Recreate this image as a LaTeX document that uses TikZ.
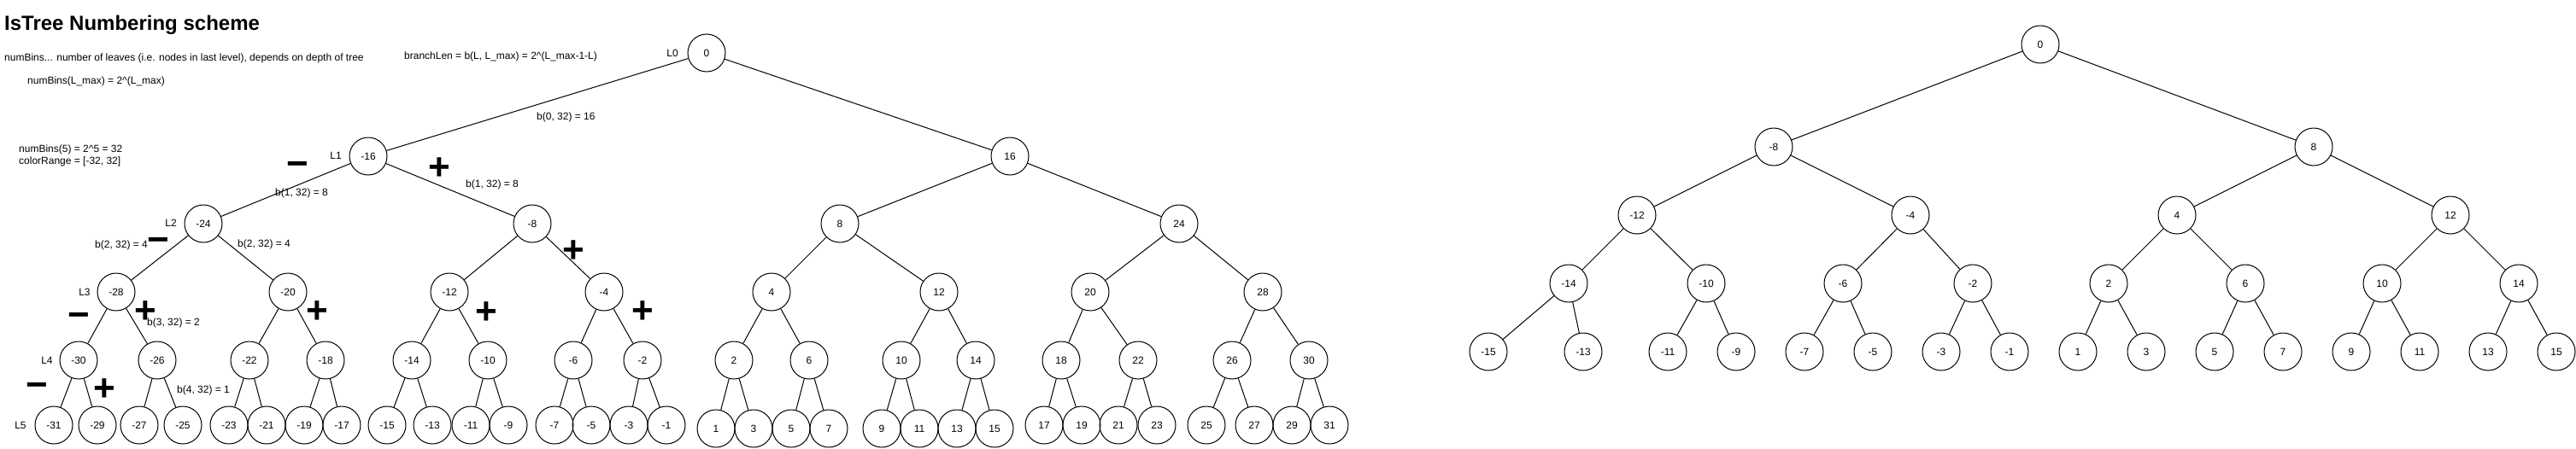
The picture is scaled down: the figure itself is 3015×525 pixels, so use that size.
\documentclass[tikz,border=0pt]{standalone}
\usepackage{fontspec}
\setmainfont{Liberation Sans}
\tikzset{
  num/.style={draw,circle,line width=1pt,minimum size=44pt,inner sep=0pt,font=\fontsize{12}{14}\selectfont},
  txt/.style={anchor=west,inner sep=0pt,font=\fontsize{12}{14}\selectfont},
  lvl/.style={inner sep=0pt,font=\fontsize{12}{14}\selectfont},
  sgn/.style={inner sep=0pt,font=\bfseries\fontsize{44}{44}\selectfont},
  edg/.style={line width=1pt}
}
\begin{document}
\begin{tikzpicture}
        [x=1pt,y=-1pt]
        \useasboundingbox (0,0) rectangle (3015,525);
        % notes
        \node[txt,font=\bfseries\fontsize{24}{28}\selectfont] (title) at (5,29) {IsTree Numbering scheme};
        \node[txt] (leaves) at (5,68) {numBins... number of leaves (i.e. nodes in last level), depends on depth of tree};
        \node[txt] (bins) at (32,95) {numBins(L\_max) = 2\^{}(L\_max)};
        \node[txt] (blen) at (473,66) {branchLen = b(L, L\_max) = 2\^{}(L\_max-1-L)};
        \node[txt,align=left] (range) at (22,182) {numBins(5) = 2\^{}5 = 32\\colorRange = [-32, 32]};

        % left tree
        \node[num] (A0) at (827,62) {0};
        \node[num] (Am16) at (431,183) {-16};
        \node[num] (A16) at (1182,183) {16};
        \node[num] (Am24) at (238,262) {-24};
        \node[num] (Am8) at (623,262) {-8};
        \node[num] (A8) at (983,262) {8};
        \node[num] (A24) at (1380,262) {24};
        \node[num] (Am28) at (136,342) {-28};
        \node[num] (Am20) at (337,342) {-20};
        \node[num] (Am12) at (526,342) {-12};
        \node[num] (Am4) at (707,342) {-4};
        \node[num] (A4) at (903,342) {4};
        \node[num] (A12) at (1099,342) {12};
        \node[num] (A20) at (1276,342) {20};
        \node[num] (A28) at (1478,342) {28};
        \node[num] (Am30) at (92,422) {-30};
        \node[num] (Am26) at (184,422) {-26};
        \node[num] (Am22) at (292,422) {-22};
        \node[num] (Am18) at (381,422) {-18};
        \node[num] (Am14) at (482,422) {-14};
        \node[num] (Am10) at (571,422) {-10};
        \node[num] (Am6) at (671,422) {-6};
        \node[num] (Am2) at (752,422) {-2};
        \node[num] (A2) at (859,422) {2};
        \node[num] (A6) at (947,422) {6};
        \node[num] (A10) at (1055,422) {10};
        \node[num] (A14) at (1142,422) {14};
        \node[num] (A18) at (1242,422) {18};
        \node[num] (A22) at (1332,422) {22};
        \node[num] (A26) at (1442,422) {26};
        \node[num] (A30) at (1532,422) {30};
        \node[num] (Am31) at (63,498) {-31};
        \node[num] (Am29) at (114,498) {-29};
        \node[num] (Am27) at (163,498) {-27};
        \node[num] (Am25) at (214,498) {-25};
        \node[num] (Am23) at (268,498) {-23};
        \node[num] (Am21) at (312,498) {-21};
        \node[num] (Am19) at (356,498) {-19};
        \node[num] (Am17) at (400,498) {-17};
        \node[num] (Am15) at (453,498) {-15};
        \node[num] (Am13) at (506,498) {-13};
        \node[num] (Am11) at (551,498) {-11};
        \node[num] (Am9) at (595,498) {-9};
        \node[num] (Am7) at (649,498) {-7};
        \node[num] (Am5) at (692,498) {-5};
        \node[num] (Am3) at (736,498) {-3};
        \node[num] (Am1) at (780,498) {-1};
        \node[num] (A1) at (838,502) {1};
        \node[num] (A3) at (882,502) {3};
        \node[num] (A5) at (926,502) {5};
        \node[num] (A7) at (970,502) {7};
        \node[num] (A9) at (1032,502) {9};
        \node[num] (A11) at (1076,502) {11};
        \node[num] (A13) at (1120,502) {13};
        \node[num] (A15) at (1164,502) {15};
        \node[num] (A17) at (1222,498) {17};
        \node[num] (A19) at (1266,498) {19};
        \node[num] (A21) at (1309,498) {21};
        \node[num] (A23) at (1354,498) {23};
        \node[num] (A25) at (1412,498) {25};
        \node[num] (A27) at (1468,498) {27};
        \node[num] (A29) at (1512,498) {29};
        \node[num] (A31) at (1556,498) {31};

        % levels, branch lengths and signs
        \node[lvl] (L0) at (787,62) {L0};
        \node[lvl] (L1) at (393,182) {L1};
        \node[lvl] (L2) at (200,261) {L2};
        \node[lvl] (L3) at (99,342) {L3};
        \node[lvl] (L4) at (55,422) {L4};
        \node[lvl] (L5) at (24,498) {L5};
        \node[txt] (b0) at (628,137) {b(0, 32) = 16};
        \node[txt] (b1l) at (322,226) {b(1, 32) = 8};
        \node[txt] (b1r) at (545,216) {b(1, 32) = 8};
        \node[txt] (b2l) at (111,287) {b(2, 32) = 4};
        \node[txt] (b2r) at (278,286) {b(2, 32) = 4};
        \node[txt] (b3) at (172,378) {b(3, 32) = 2};
        \node[txt] (b4) at (207,457) {b(4, 32) = 1};
        \node[sgn] (m1) at (348,198) {−};
        \node[sgn] (p1) at (514,198) {+};
        \node[sgn] (m2) at (185,287) {−};
        \node[sgn] (p2) at (671,295) {+};
        \node[sgn] (m3) at (92,375) {−};
        \node[sgn] (p3) at (170,366) {+};
        \node[sgn] (p3b) at (371,366) {+};
        \node[sgn] (p3c) at (569,367) {+};
        \node[sgn] (p3d) at (752,366) {+};
        \node[sgn] (m4) at (43,457) {−};
        \node[sgn] (p4) at (122,457) {+};

        \draw[edg] (A0) -- (Am16) (A0) -- (A16);
        \draw[edg] (Am16) -- (Am24) (Am16) -- (Am8);
        \draw[edg] (A16) -- (A8) (A16) -- (A24);
        \draw[edg] (Am24) -- (Am28) (Am24) -- (Am20);
        \draw[edg] (Am8) -- (Am12) (Am8) -- (Am4);
        \draw[edg] (A8) -- (A4) (A8) -- (A12);
        \draw[edg] (A24) -- (A20) (A24) -- (A28);
        \draw[edg] (Am28) -- (Am30) (Am28) -- (Am26);
        \draw[edg] (Am20) -- (Am22) (Am20) -- (Am18);
        \draw[edg] (Am12) -- (Am14) (Am12) -- (Am10);
        \draw[edg] (Am4) -- (Am6) (Am4) -- (Am2);
        \draw[edg] (A4) -- (A2) (A4) -- (A6);
        \draw[edg] (A12) -- (A10) (A12) -- (A14);
        \draw[edg] (A20) -- (A18) (A20) -- (A22);
        \draw[edg] (A28) -- (A26) (A28) -- (A30);
        \draw[edg] (Am30) -- (Am31) (Am30) -- (Am29);
        \draw[edg] (Am26) -- (Am27) (Am26) -- (Am25);
        \draw[edg] (Am22) -- (Am23) (Am22) -- (Am21);
        \draw[edg] (Am18) -- (Am19) (Am18) -- (Am17);
        \draw[edg] (Am14) -- (Am15) (Am14) -- (Am13);
        \draw[edg] (Am10) -- (Am11) (Am10) -- (Am9);
        \draw[edg] (Am6) -- (Am7) (Am6) -- (Am5);
        \draw[edg] (Am2) -- (Am3) (Am2) -- (Am1);
        \draw[edg] (A2) -- (A1) (A2) -- (A3);
        \draw[edg] (A6) -- (A5) (A6) -- (A7);
        \draw[edg] (A10) -- (A9) (A10) -- (A11);
        \draw[edg] (A14) -- (A13) (A14) -- (A15);
        \draw[edg] (A18) -- (A17) (A18) -- (A19);
        \draw[edg] (A22) -- (A21) (A22) -- (A23);
        \draw[edg] (A26) -- (A25) (A26) -- (A27);
        \draw[edg] (A30) -- (A29) (A30) -- (A31);

        % right tree
        \node[num] (B0) at (2388,52) {0};
        \node[num] (Bm8) at (2076,172) {-8};
        \node[num] (B8) at (2708,172) {8};
        \node[num] (Bm12) at (1916,252) {-12};
        \node[num] (Bm4) at (2236,252) {-4};
        \node[num] (B4) at (2548,252) {4};
        \node[num] (B12) at (2868,252) {12};
        \node[num] (Bm14) at (1836,332) {-14};
        \node[num] (Bm10) at (1997,332) {-10};
        \node[num] (Bm6) at (2157,332) {-6};
        \node[num] (Bm2) at (2309,332) {-2};
        \node[num] (B2) at (2468,332) {2};
        \node[num] (B6) at (2628,332) {6};
        \node[num] (B10) at (2788,332) {10};
        \node[num] (B14) at (2948,332) {14};
        \node[num] (Bm15) at (1742,412) {-15};
        \node[num] (Bm13) at (1853,412) {-13};
        \node[num] (Bm11) at (1952,412) {-11};
        \node[num] (Bm9) at (2032,412) {-9};
        \node[num] (Bm7) at (2112,412) {-7};
        \node[num] (Bm5) at (2192,412) {-5};
        \node[num] (Bm3) at (2272,412) {-3};
        \node[num] (Bm1) at (2352,412) {-1};
        \node[num] (B1) at (2432,412) {1};
        \node[num] (B3) at (2512,412) {3};
        \node[num] (B5) at (2592,412) {5};
        \node[num] (B7) at (2672,412) {7};
        \node[num] (B9) at (2752,412) {9};
        \node[num] (B11) at (2832,412) {11};
        \node[num] (B13) at (2912,412) {13};
        \node[num] (B15) at (2992,412) {15};

        \draw[edg] (B0) -- (Bm8) (B0) -- (B8);
        \draw[edg] (Bm8) -- (Bm12) (Bm8) -- (Bm4);
        \draw[edg] (B8) -- (B4) (B8) -- (B12);
        \draw[edg] (Bm12) -- (Bm14) (Bm12) -- (Bm10);
        \draw[edg] (Bm4) -- (Bm6) (Bm4) -- (Bm2);
        \draw[edg] (B4) -- (B2) (B4) -- (B6);
        \draw[edg] (B12) -- (B10) (B12) -- (B14);
        \draw[edg] (Bm14) -- (Bm15) (Bm14) -- (Bm13);
        \draw[edg] (Bm10) -- (Bm11) (Bm10) -- (Bm9);
        \draw[edg] (Bm6) -- (Bm7) (Bm6) -- (Bm5);
        \draw[edg] (Bm2) -- (Bm3) (Bm2) -- (Bm1);
        \draw[edg] (B2) -- (B1) (B2) -- (B3);
        \draw[edg] (B6) -- (B5) (B6) -- (B7);
        \draw[edg] (B10) -- (B9) (B10) -- (B11);
        \draw[edg] (B14) -- (B13) (B14) -- (B15);
      \end{tikzpicture}
\end{document}
